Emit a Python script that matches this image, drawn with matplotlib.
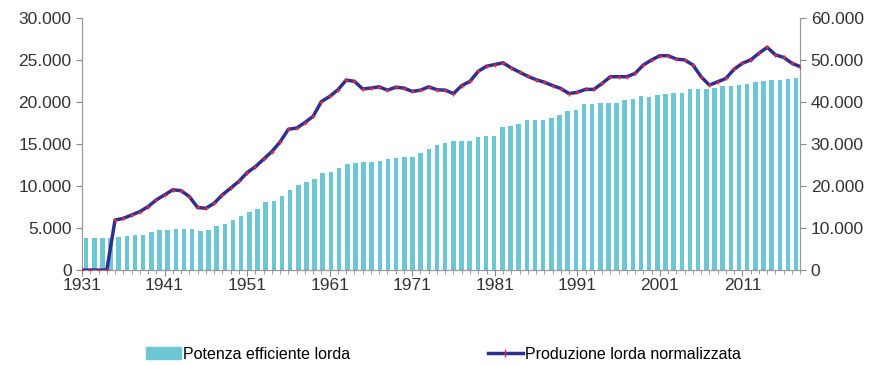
import numpy as np
import matplotlib
matplotlib.use('Agg')
import matplotlib.pyplot as plt
from matplotlib.ticker import FuncFormatter, MultipleLocator
from matplotlib.patches import Patch
from matplotlib.lines import Line2D

plt.rcParams['font.family'] = ['Liberation Sans', 'DejaVu Sans']

# anni
anni = np.arange(1931, 2019)

# Potenza efficiente lorda (MW) - asse sinistro
potenza = [3800, 3800, 3800, 3800, 3900, 4000, 4200, 4200, 4500, 4800,
           4800, 4900, 4900, 4900, 4600, 4800, 5200, 5500, 6000, 6400,
           6900, 7300, 8100, 8200, 8800, 9500, 10100, 10500, 10800, 11500,
           11700, 12100, 12600, 12700, 12800, 12800, 13000, 13200, 13300, 13400,
           13500, 13900, 14400, 14900, 15100, 15300, 15300, 15400, 15800, 15900,
           16000, 17000, 17100, 17400, 17900, 17900, 17900, 18100, 18500, 18900,
           19100, 19700, 19800, 19900, 19900, 19900, 20200, 20400, 20700, 20600,
           20800, 20900, 21100, 21100, 21500, 21500, 21600, 21700, 21900, 21900,
           22000, 22100, 22400, 22500, 22600, 22600, 22700, 22800]

# Produzione lorda normalizzata (GWh) - asse destro
produzione = [0, 0, 0, 0, 11900, 12300, 13100, 13900, 15100, 16700,
              17900, 19100, 18900, 17500, 14900, 14700, 15900, 17900, 19500, 21100,
              23200, 24600, 26400, 28200, 30500, 33500, 33800, 35100, 36600, 40100,
              41300, 42900, 45200, 44900, 43100, 43300, 43600, 42800, 43500, 43300,
              42500, 42800, 43600, 42900, 42800, 42000, 43900, 44900, 47300, 48500,
              48900, 49300, 48100, 47100, 46100, 45300, 44700, 43900, 43200, 42000,
              42300, 43000, 43000, 44400, 46000, 46000, 46000, 46800, 48800, 50000,
              51000, 51000, 50200, 50000, 48800, 46000, 44000, 44800, 45600, 47800,
              49200, 50000, 51600, 53000, 51200, 50600, 49200, 48400]

fig = plt.figure(figsize=(8.78, 3.65), dpi=100)
ax = fig.add_axes([0.0934, 0.260, 0.818, 0.691])
ax2 = ax.twinx()

n = len(anni)
pos_barre = anni[0] + (anni - anni[0] + 0.5) * (n - 1) / n
ax.bar(pos_barre, potenza, width=0.55, color='#6cc6d4', zorder=2)

ax2.plot(anni, produzione, color='#2e2f93', lw=2.5, marker='+', ms=3,
         mec='#e8283c', mew=0.9, zorder=3)

ax.set_xlim(anni[0], anni[-1])
ax.set_ylim(0, 30000)
ax2.set_ylim(0, 60000)
ax.set_yticks(np.arange(0, 30001, 5000))
ax2.set_yticks(np.arange(0, 60001, 10000))

fmt = FuncFormatter(lambda v, p: f'{int(v):,}'.replace(',', '.'))
ax.yaxis.set_major_formatter(fmt)
ax2.yaxis.set_major_formatter(fmt)

ax.set_xticks(np.arange(1931, 2019, 10))
ax.xaxis.set_minor_locator(MultipleLocator(1))
ax.tick_params(axis='x', which='both', length=4, color='#888888', labelsize=12.5,
               colors='#333333', pad=2)
ax.tick_params(axis='x', which='minor', length=3)
ax.tick_params(axis='y', length=4, color='#888888', labelsize=12.5, labelcolor='#333333')
ax2.tick_params(axis='y', length=4, color='#888888', labelsize=12.5, labelcolor='#333333')

for a in (ax, ax2):
    a.spines['top'].set_visible(False)
    for s in ('left', 'right', 'bottom'):
        a.spines[s].set_color('#999999')
        a.spines[s].set_linewidth(0.8)

handles = [Patch(color='#6cc6d4', label='Potenza efficiente lorda'),
           Line2D([0], [0], color='#2e2f93', lw=2.5, marker='|', ms=6,
                  mec='#e8283c', label='Produzione lorda normalizzata')]
fig.legend(handles=handles, loc='center', bbox_to_anchor=(0.505, 0.03), ncol=2,
           frameon=False, fontsize=11.5, columnspacing=8.6, handlelength=2.2,
           handletextpad=0.15)

fig.savefig('out.png', dpi=100)
